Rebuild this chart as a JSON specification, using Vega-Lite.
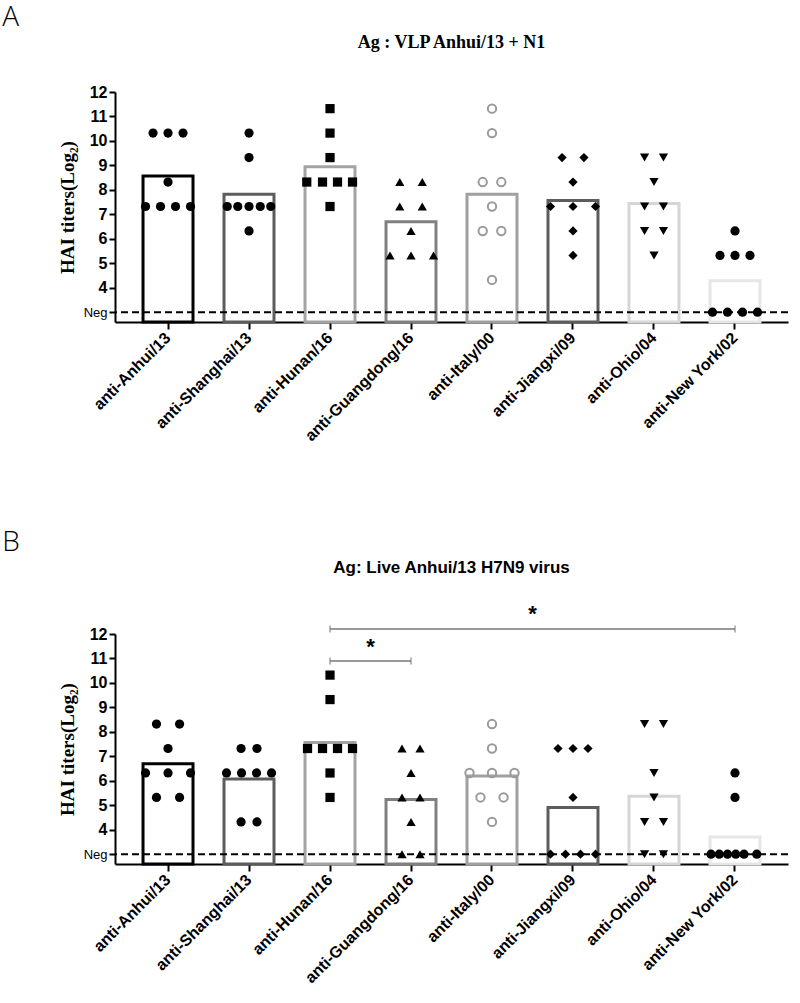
{
  "$schema": "https://vega.github.io/schema/vega-lite/v6.json",
  "padding": {"left": 2, "top": 4, "right": 6, "bottom": 2},
  "background": "white",
  "config": {
    "view": {"stroke": null},
    "axis": {
      "domainColor": "black", "domainWidth": 2, "tickColor": "black", "tickWidth": 2, "tickSize": 6,
      "labelColor": "black", "titleColor": "black", "grid": false, "labelOverlap": false
    }
  },
  "datasets": {
    "a": [
      {"group": "anti-Anhui/13", "titer": 10.32, "dx": -1}, {"group": "anti-Anhui/13", "titer": 10.32, "dx": 0}, {"group": "anti-Anhui/13", "titer": 10.32, "dx": 1},
      {"group": "anti-Anhui/13", "titer": 8.32, "dx": 0},
      {"group": "anti-Anhui/13", "titer": 7.32, "dx": -1.5}, {"group": "anti-Anhui/13", "titer": 7.32, "dx": -0.5}, {"group": "anti-Anhui/13", "titer": 7.32, "dx": 0.5}, {"group": "anti-Anhui/13", "titer": 7.32, "dx": 1.5},
      {"group": "anti-Shanghai/13", "titer": 10.32, "dx": 0}, {"group": "anti-Shanghai/13", "titer": 9.32, "dx": 0},
      {"group": "anti-Shanghai/13", "titer": 7.32, "dx": -1.45}, {"group": "anti-Shanghai/13", "titer": 7.32, "dx": -0.75}, {"group": "anti-Shanghai/13", "titer": 7.32, "dx": 0}, {"group": "anti-Shanghai/13", "titer": 7.32, "dx": 0.75}, {"group": "anti-Shanghai/13", "titer": 7.32, "dx": 1.45},
      {"group": "anti-Shanghai/13", "titer": 6.32, "dx": 0},
      {"group": "anti-Hunan/16", "titer": 11.32, "dx": 0}, {"group": "anti-Hunan/16", "titer": 10.32, "dx": 0}, {"group": "anti-Hunan/16", "titer": 9.32, "dx": 0},
      {"group": "anti-Hunan/16", "titer": 8.32, "dx": -1.55}, {"group": "anti-Hunan/16", "titer": 8.32, "dx": -0.5}, {"group": "anti-Hunan/16", "titer": 8.32, "dx": 0.5}, {"group": "anti-Hunan/16", "titer": 8.32, "dx": 1.5},
      {"group": "anti-Hunan/16", "titer": 7.32, "dx": 0},
      {"group": "anti-Guangdong/16", "titer": 8.32, "dx": -0.75}, {"group": "anti-Guangdong/16", "titer": 8.32, "dx": 0.75},
      {"group": "anti-Guangdong/16", "titer": 7.32, "dx": -0.75}, {"group": "anti-Guangdong/16", "titer": 7.32, "dx": 0.75},
      {"group": "anti-Guangdong/16", "titer": 6.32, "dx": 0},
      {"group": "anti-Guangdong/16", "titer": 5.32, "dx": -1.4}, {"group": "anti-Guangdong/16", "titer": 5.32, "dx": 0}, {"group": "anti-Guangdong/16", "titer": 5.32, "dx": 1.5},
      {"group": "anti-Italy/00", "titer": 11.32, "dx": 0}, {"group": "anti-Italy/00", "titer": 10.32, "dx": 0},
      {"group": "anti-Italy/00", "titer": 8.32, "dx": -0.62}, {"group": "anti-Italy/00", "titer": 8.32, "dx": 0.62},
      {"group": "anti-Italy/00", "titer": 7.32, "dx": 0},
      {"group": "anti-Italy/00", "titer": 6.32, "dx": -0.62}, {"group": "anti-Italy/00", "titer": 6.32, "dx": 0.62},
      {"group": "anti-Italy/00", "titer": 4.32, "dx": 0},
      {"group": "anti-Jiangxi/09", "titer": 9.32, "dx": -0.73}, {"group": "anti-Jiangxi/09", "titer": 9.32, "dx": 0.73},
      {"group": "anti-Jiangxi/09", "titer": 8.32, "dx": 0},
      {"group": "anti-Jiangxi/09", "titer": 7.32, "dx": -1.5}, {"group": "anti-Jiangxi/09", "titer": 7.32, "dx": 0}, {"group": "anti-Jiangxi/09", "titer": 7.32, "dx": 1.5},
      {"group": "anti-Jiangxi/09", "titer": 6.32, "dx": 0}, {"group": "anti-Jiangxi/09", "titer": 5.32, "dx": 0},
      {"group": "anti-Ohio/04", "titer": 9.32, "dx": -0.63}, {"group": "anti-Ohio/04", "titer": 9.32, "dx": 0.63},
      {"group": "anti-Ohio/04", "titer": 8.32, "dx": 0},
      {"group": "anti-Ohio/04", "titer": 7.32, "dx": -0.63}, {"group": "anti-Ohio/04", "titer": 7.32, "dx": 0.63},
      {"group": "anti-Ohio/04", "titer": 6.32, "dx": -0.63}, {"group": "anti-Ohio/04", "titer": 6.32, "dx": 0.63},
      {"group": "anti-Ohio/04", "titer": 5.32, "dx": 0},
      {"group": "anti-New York/02", "titer": 6.32, "dx": 0},
      {"group": "anti-New York/02", "titer": 5.32, "dx": -1}, {"group": "anti-New York/02", "titer": 5.32, "dx": 0}, {"group": "anti-New York/02", "titer": 5.32, "dx": 1},
      {"group": "anti-New York/02", "titer": 3, "dx": -1.5}, {"group": "anti-New York/02", "titer": 3, "dx": -0.5}, {"group": "anti-New York/02", "titer": 3, "dx": 0.5}, {"group": "anti-New York/02", "titer": 3, "dx": 1.5}
    ],
    "b": [
      {"group": "anti-Anhui/13", "titer": 8.32, "dx": -0.77}, {"group": "anti-Anhui/13", "titer": 8.32, "dx": 0.77},
      {"group": "anti-Anhui/13", "titer": 7.32, "dx": 0},
      {"group": "anti-Anhui/13", "titer": 6.32, "dx": -1.5}, {"group": "anti-Anhui/13", "titer": 6.32, "dx": 0}, {"group": "anti-Anhui/13", "titer": 6.32, "dx": 1.5},
      {"group": "anti-Anhui/13", "titer": 5.32, "dx": -0.77}, {"group": "anti-Anhui/13", "titer": 5.32, "dx": 0.77},
      {"group": "anti-Shanghai/13", "titer": 7.32, "dx": -0.53}, {"group": "anti-Shanghai/13", "titer": 7.32, "dx": 0.53},
      {"group": "anti-Shanghai/13", "titer": 6.32, "dx": -1.5}, {"group": "anti-Shanghai/13", "titer": 6.32, "dx": -0.5}, {"group": "anti-Shanghai/13", "titer": 6.32, "dx": 0.5}, {"group": "anti-Shanghai/13", "titer": 6.32, "dx": 1.5},
      {"group": "anti-Shanghai/13", "titer": 4.32, "dx": -0.53}, {"group": "anti-Shanghai/13", "titer": 4.32, "dx": 0.53},
      {"group": "anti-Hunan/16", "titer": 10.32, "dx": 0}, {"group": "anti-Hunan/16", "titer": 9.32, "dx": 0},
      {"group": "anti-Hunan/16", "titer": 7.32, "dx": -1.5}, {"group": "anti-Hunan/16", "titer": 7.32, "dx": -0.5}, {"group": "anti-Hunan/16", "titer": 7.32, "dx": 0.5}, {"group": "anti-Hunan/16", "titer": 7.32, "dx": 1.5},
      {"group": "anti-Hunan/16", "titer": 6.32, "dx": 0}, {"group": "anti-Hunan/16", "titer": 5.32, "dx": 0},
      {"group": "anti-Guangdong/16", "titer": 7.32, "dx": -0.6}, {"group": "anti-Guangdong/16", "titer": 7.32, "dx": 0.6},
      {"group": "anti-Guangdong/16", "titer": 6.32, "dx": 0},
      {"group": "anti-Guangdong/16", "titer": 5.32, "dx": -0.6}, {"group": "anti-Guangdong/16", "titer": 5.32, "dx": 0.6},
      {"group": "anti-Guangdong/16", "titer": 4.32, "dx": 0},
      {"group": "anti-Guangdong/16", "titer": 3, "dx": -0.6}, {"group": "anti-Guangdong/16", "titer": 3, "dx": 0.6},
      {"group": "anti-Italy/00", "titer": 8.32, "dx": 0}, {"group": "anti-Italy/00", "titer": 7.32, "dx": 0},
      {"group": "anti-Italy/00", "titer": 6.32, "dx": -1.5}, {"group": "anti-Italy/00", "titer": 6.32, "dx": 0}, {"group": "anti-Italy/00", "titer": 6.32, "dx": 1.5},
      {"group": "anti-Italy/00", "titer": 5.32, "dx": -0.77}, {"group": "anti-Italy/00", "titer": 5.32, "dx": 0.77},
      {"group": "anti-Italy/00", "titer": 4.32, "dx": 0},
      {"group": "anti-Jiangxi/09", "titer": 7.32, "dx": -1}, {"group": "anti-Jiangxi/09", "titer": 7.32, "dx": 0}, {"group": "anti-Jiangxi/09", "titer": 7.32, "dx": 1},
      {"group": "anti-Jiangxi/09", "titer": 5.32, "dx": 0},
      {"group": "anti-Jiangxi/09", "titer": 3, "dx": -1.5}, {"group": "anti-Jiangxi/09", "titer": 3, "dx": -0.5}, {"group": "anti-Jiangxi/09", "titer": 3, "dx": 0.5}, {"group": "anti-Jiangxi/09", "titer": 3, "dx": 1.5},
      {"group": "anti-Ohio/04", "titer": 8.32, "dx": -0.63}, {"group": "anti-Ohio/04", "titer": 8.32, "dx": 0.63},
      {"group": "anti-Ohio/04", "titer": 6.32, "dx": 0}, {"group": "anti-Ohio/04", "titer": 5.32, "dx": 0},
      {"group": "anti-Ohio/04", "titer": 4.32, "dx": -0.63}, {"group": "anti-Ohio/04", "titer": 4.32, "dx": 0.63},
      {"group": "anti-Ohio/04", "titer": 3, "dx": -0.63}, {"group": "anti-Ohio/04", "titer": 3, "dx": 0.63},
      {"group": "anti-New York/02", "titer": 6.32, "dx": 0}, {"group": "anti-New York/02", "titer": 5.32, "dx": 0},
      {"group": "anti-New York/02", "titer": 3, "dx": -1.6}, {"group": "anti-New York/02", "titer": 3, "dx": -1.05}, {"group": "anti-New York/02", "titer": 3, "dx": -0.5},
      {"group": "anti-New York/02", "titer": 3, "dx": 0.05}, {"group": "anti-New York/02", "titer": 3, "dx": 0.6}, {"group": "anti-New York/02", "titer": 3, "dx": 1.45}
    ],
    "neg": [{"neg": 3}],
    "brk": [
      {"from": "anti-Hunan/16", "to": "anti-Guangdong/16", "level": 10.9},
      {"from": "anti-Hunan/16", "to": "anti-New York/02", "level": 12.2}
    ],
    "stars": [
      {"group": "anti-Hunan/16", "dx": 2.7, "level": 11.45},
      {"group": "anti-Italy/00", "dx": 2.7, "level": 12.8}
    ]
  },
  "spacing": 85,
  "vconcat": [
    {
      "title": {"text": "A", "anchor": "start", "frame": "bounds", "dx": -56, "font": "Open Sans", "fontWeight": 300, "fontSize": 28, "offset": 2, "color": "black"},
      "vconcat": [
        {
          "title": {"text": "Ag : VLP Anhui/13 + N1", "frame": "group", "anchor": "middle", "font": "Liberation Sans Narrow", "fontSize": 18, "fontWeight": "bold", "offset": 32, "color": "black"},
          "width": 673,
          "height": 230,
          "data": {"name": "a"},
          "resolve": {"scale": {"xOffset": "independent"}},
          "layer": [
            {
              "mark": {"type": "bar", "fill": "white", "strokeWidth": 3, "width": {"band": 1}},
              "encoding": {
                "x": {"field": "group", "type": "nominal", "sort": null, "title": null,
                  "scale": {"domain": ["anti-Anhui/13", "anti-Shanghai/13", "anti-Hunan/16", "anti-Guangdong/16", "anti-Italy/00", "anti-Jiangxi/09", "anti-Ohio/04", "anti-New York/02"], "paddingInner": 0.383, "paddingOuter": 0.346},
                  "axis": {"labelAngle": -45, "labelAlign": "right", "labelBaseline": "middle", "labelFont": "Liberation Sans", "labelFontWeight": "bold", "labelFontSize": 16, "labelPadding": 6, "tickSize": 7}},
                "y": {"aggregate": "mean", "field": "titer", "type": "quantitative", "title": "HAI titers(Log₂)",
                  "scale": {"domain": [2.6, 12], "zero": false, "nice": false},
                  "axis": {"values": [3, 4, 5, 6, 7, 8, 9, 10, 11, 12], "tickCount": 20, "labelOverlap": false, "labelExpr": "datum.value == 3 ? 'Neg' : '' + datum.value", "labelFont": "Liberation Sans", "labelFontSize": {"condition": {"test": "datum.value == 3", "value": 13}, "value": 16}, "labelFontWeight": {"condition": {"test": "datum.value == 3", "value": "normal"}, "value": "bold"}, "labelPadding": 2, "titleFont": "Liberation Serif", "titleFontSize": 19, "titleFontWeight": "bold", "titlePadding": 6}},
                "stroke": {"field": "group", "type": "nominal", "legend": null,
                  "scale": {"domain": ["anti-Anhui/13", "anti-Shanghai/13", "anti-Hunan/16", "anti-Guangdong/16", "anti-Italy/00", "anti-Jiangxi/09", "anti-Ohio/04", "anti-New York/02"], "range": ["#000000", "#5c5c5c", "#a3a3a3", "#808080", "#a0a0a0", "#5c5c5c", "#d6d6d6", "#e6e6e6"]}}
              }
            },
            {
              "data": {"name": "neg"},
              "mark": {"type": "rule", "color": "black", "strokeWidth": 2, "strokeDash": [7, 4]},
              "encoding": {"y": {"field": "neg", "type": "quantitative"}}
            },
            {
              "transform": [{"filter": "datum.group !== 'anti-Italy/00'"}],
              "mark": {"type": "point", "filled": true, "color": "black", "size": 85, "opacity": 1},
              "encoding": {
                "x": {"field": "group", "type": "nominal", "sort": null},
                "xOffset": {"field": "dx", "type": "quantitative", "scale": {"domain": [-1.6667, 1.6667], "range": [0, 50]}},
                "y": {"field": "titer", "type": "quantitative"},
                "shape": {"field": "group", "type": "nominal", "legend": null,
                  "scale": {"domain": ["anti-Anhui/13", "anti-Shanghai/13", "anti-Hunan/16", "anti-Guangdong/16", "anti-Italy/00", "anti-Jiangxi/09", "anti-Ohio/04", "anti-New York/02"], "range": ["circle", "circle", "square", "triangle-up", "circle", "diamond", "triangle-down", "circle"]}}
              }
            },
            {
              "transform": [{"filter": "datum.group === 'anti-Italy/00'"}],
              "mark": {"type": "point", "shape": "circle", "filled": false, "stroke": "#9a9a9a", "strokeWidth": 2, "size": 70, "opacity": 1},
              "encoding": {
                "x": {"field": "group", "type": "nominal", "sort": null},
                "xOffset": {"field": "dx", "type": "quantitative", "scale": {"domain": [-1.6667, 1.6667], "range": [0, 50]}},
                "y": {"field": "titer", "type": "quantitative"}
              }
            }
          ]
        }
      ]
    },
    {
      "title": {"text": "B", "anchor": "start", "frame": "bounds", "dx": -56, "font": "Open Sans", "fontWeight": 300, "fontSize": 28, "offset": 2, "color": "black"},
      "vconcat": [
        {
          "title": {"text": "Ag: Live Anhui/13 H7N9 virus", "frame": "group", "anchor": "middle", "font": "Liberation Sans", "fontSize": 17, "fontWeight": "bold", "offset": 26, "color": "black"},
          "width": 673,
          "height": 230,
          "data": {"name": "b"},
          "resolve": {"scale": {"xOffset": "independent"}},
          "layer": [
            {
              "mark": {"type": "bar", "fill": "white", "strokeWidth": 3, "width": {"band": 1}},
              "encoding": {
                "x": {"field": "group", "type": "nominal", "sort": null, "title": null,
                  "scale": {"domain": ["anti-Anhui/13", "anti-Shanghai/13", "anti-Hunan/16", "anti-Guangdong/16", "anti-Italy/00", "anti-Jiangxi/09", "anti-Ohio/04", "anti-New York/02"], "paddingInner": 0.383, "paddingOuter": 0.346},
                  "axis": {"labelAngle": -45, "labelAlign": "right", "labelBaseline": "middle", "labelFont": "Liberation Sans", "labelFontWeight": "bold", "labelFontSize": 16, "labelPadding": 6, "tickSize": 7}},
                "y": {"aggregate": "mean", "field": "titer", "type": "quantitative", "title": "HAI titers(Log₂)",
                  "scale": {"domain": [2.6, 12], "zero": false, "nice": false},
                  "axis": {"values": [3, 4, 5, 6, 7, 8, 9, 10, 11, 12], "tickCount": 20, "labelOverlap": false, "labelExpr": "datum.value == 3 ? 'Neg' : '' + datum.value", "labelFont": "Liberation Sans", "labelFontSize": {"condition": {"test": "datum.value == 3", "value": 13}, "value": 16}, "labelFontWeight": {"condition": {"test": "datum.value == 3", "value": "normal"}, "value": "bold"}, "labelPadding": 2, "titleFont": "Liberation Serif", "titleFontSize": 19, "titleFontWeight": "bold", "titlePadding": 6}},
                "stroke": {"field": "group", "type": "nominal", "legend": null,
                  "scale": {"domain": ["anti-Anhui/13", "anti-Shanghai/13", "anti-Hunan/16", "anti-Guangdong/16", "anti-Italy/00", "anti-Jiangxi/09", "anti-Ohio/04", "anti-New York/02"], "range": ["#000000", "#666666", "#aaaaaa", "#888888", "#a8a8a8", "#666666", "#dadada", "#e8e8e8"]}}
              }
            },
            {
              "data": {"name": "neg"},
              "mark": {"type": "rule", "color": "black", "strokeWidth": 2, "strokeDash": [7, 4]},
              "encoding": {"y": {"field": "neg", "type": "quantitative"}}
            },
            {
              "transform": [{"filter": "datum.group !== 'anti-Italy/00'"}],
              "mark": {"type": "point", "filled": true, "color": "black", "size": 85, "opacity": 1},
              "encoding": {
                "x": {"field": "group", "type": "nominal", "sort": null},
                "xOffset": {"field": "dx", "type": "quantitative", "scale": {"domain": [-1.6667, 1.6667], "range": [0, 50]}},
                "y": {"field": "titer", "type": "quantitative"},
                "shape": {"field": "group", "type": "nominal", "legend": null,
                  "scale": {"domain": ["anti-Anhui/13", "anti-Shanghai/13", "anti-Hunan/16", "anti-Guangdong/16", "anti-Italy/00", "anti-Jiangxi/09", "anti-Ohio/04", "anti-New York/02"], "range": ["circle", "circle", "square", "triangle-up", "circle", "diamond", "triangle-down", "circle"]}}
              }
            },
            {
              "transform": [{"filter": "datum.group === 'anti-Italy/00'"}],
              "mark": {"type": "point", "shape": "circle", "filled": false, "stroke": "#9a9a9a", "strokeWidth": 2, "size": 70, "opacity": 1},
              "encoding": {
                "x": {"field": "group", "type": "nominal", "sort": null},
                "xOffset": {"field": "dx", "type": "quantitative", "scale": {"domain": [-1.6667, 1.6667], "range": [0, 50]}},
                "y": {"field": "titer", "type": "quantitative"}
              }
            },
            {
              "data": {"name": "brk"},
              "mark": {"type": "rule", "color": "#777777", "strokeWidth": 1.5},
              "encoding": {
                "x": {"field": "from", "type": "nominal"},
                "x2": {"field": "to"},
                "y": {"field": "level", "type": "quantitative"}
              }
            },
            {
              "data": {"name": "brk"},
              "transform": [{"fold": ["from", "to"], "as": ["end", "group"]}],
              "mark": {"type": "tick", "orient": "vertical", "color": "#777777", "size": 7, "thickness": 1.5},
              "encoding": {
                "x": {"field": "group", "type": "nominal"},
                "y": {"field": "level", "type": "quantitative"}
              }
            },
            {
              "data": {"name": "stars"},
              "mark": {"type": "text", "text": "*", "font": "Liberation Sans", "fontSize": 22, "fontWeight": "bold", "baseline": "middle", "align": "center", "color": "black"},
              "encoding": {
                "x": {"field": "group", "type": "nominal"},
                "xOffset": {"field": "dx", "type": "quantitative", "scale": {"domain": [-1.6667, 1.6667], "range": [0, 50]}},
                "y": {"field": "level", "type": "quantitative"}
              }
            }
          ]
        }
      ]
    }
  ]
}
